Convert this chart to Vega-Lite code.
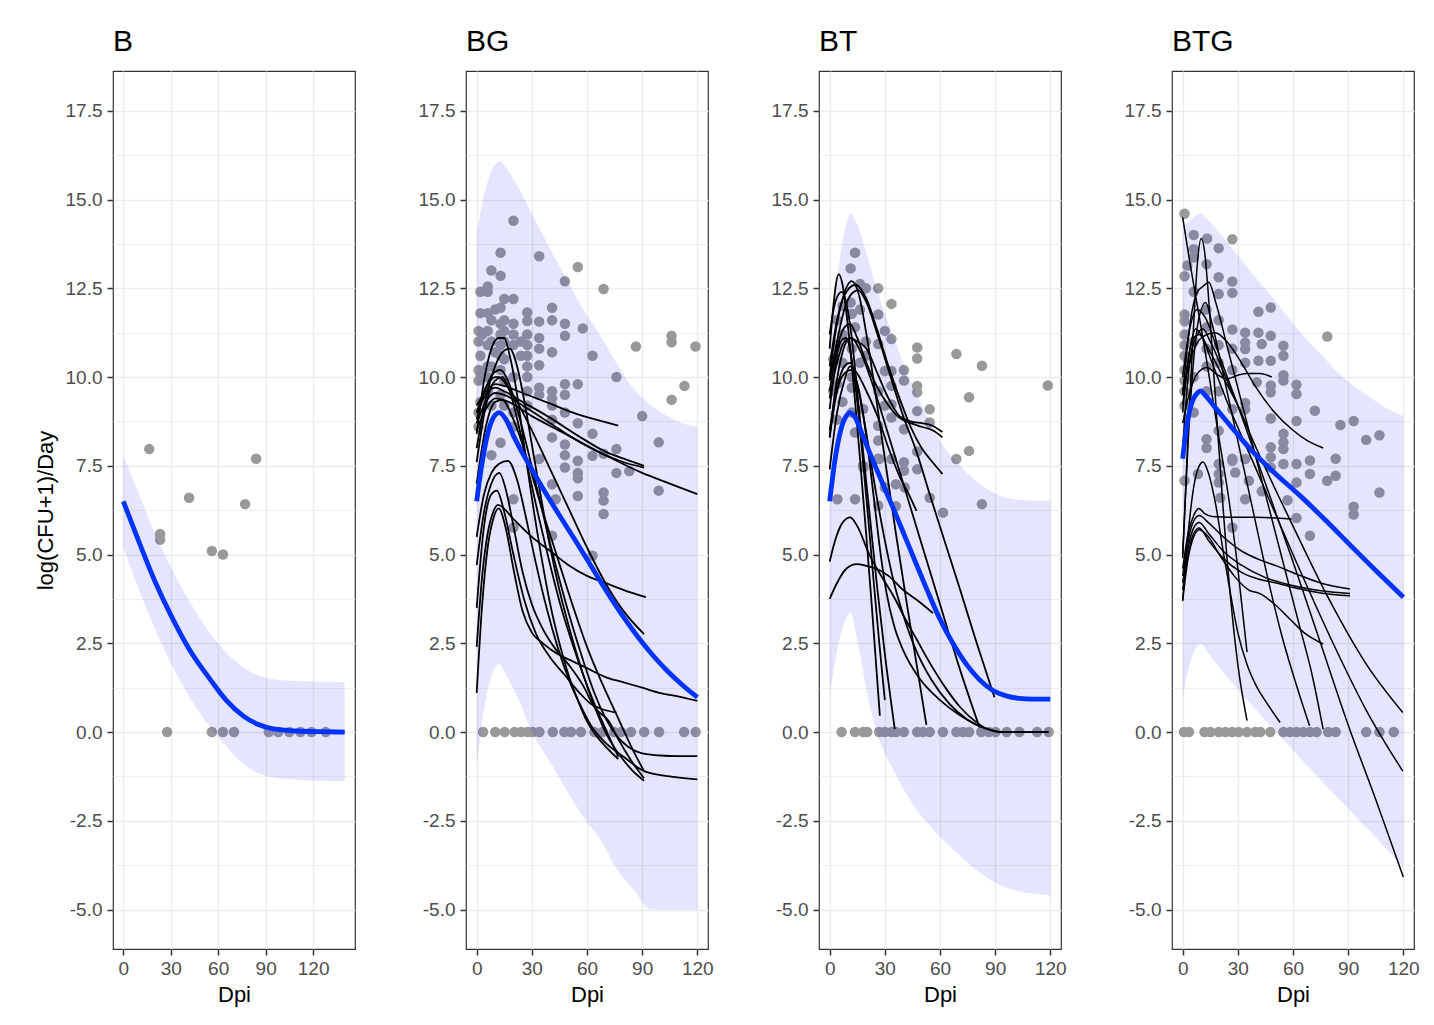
{
"$schema": "https://vega.github.io/schema/vega-lite/v6.json",
"padding": {"left": 33, "top": 26, "right": 5, "bottom": 5},
"background": "white",
"datasets": {
"pts": [
{"p":"B","x":16.4,"y":7.97},{"p":"B","x":23.3,"y":5.58},{"p":"B","x":23.3,"y":5.42},{"p":"B","x":27.7,"y":0},{"p":"B","x":41.6,"y":6.6},{"p":"B","x":56,"y":5.1},{"p":"B","x":56,"y":0},{"p":"B","x":63,"y":5.0},{"p":"B","x":63,"y":0},{"p":"B","x":70,"y":0},{"p":"B","x":77,"y":6.42},{"p":"B","x":84,"y":7.7},{"p":"B","x":92,"y":0},{"p":"B","x":98,"y":0},{"p":"B","x":105,"y":0},{"p":"B","x":112,"y":0},{"p":"B","x":119,"y":0},{"p":"B","x":128,"y":0},
{"p":"BG","x":1,"y":11.3},{"p":"BG","x":1,"y":11.0},{"p":"BG","x":1,"y":10.2},{"p":"BG","x":1,"y":9.9},{"p":"BG","x":1,"y":9.0},{"p":"BG","x":1,"y":8.6},
{"p":"BG","x":2,"y":12.4},{"p":"BG","x":2,"y":11.8},{"p":"BG","x":2,"y":10.6},{"p":"BG","x":2,"y":10.1},{"p":"BG","x":2,"y":9.3},
{"p":"BG","x":3,"y":11.2},{"p":"BG","x":3,"y":10.0},
{"p":"BG","x":6,"y":12.55},{"p":"BG","x":6,"y":12.4},{"p":"BG","x":6,"y":11.8},{"p":"BG","x":6,"y":11.3},{"p":"BG","x":6,"y":10.9},{"p":"BG","x":6,"y":10.3},{"p":"BG","x":6,"y":10.0},{"p":"BG","x":6,"y":9.6},
{"p":"BG","x":8,"y":13.0},{"p":"BG","x":8,"y":11.6},{"p":"BG","x":8,"y":11.0},{"p":"BG","x":8,"y":10.3},{"p":"BG","x":8,"y":9.2},{"p":"BG","x":8,"y":7.8},
{"p":"BG","x":10,"y":11.9},{"p":"BG","x":10,"y":10.7},
{"p":"BG","x":13,"y":13.5},{"p":"BG","x":13,"y":12.85},{"p":"BG","x":13,"y":11.95},{"p":"BG","x":13,"y":11.5},{"p":"BG","x":13,"y":11.2},{"p":"BG","x":13,"y":10.9},{"p":"BG","x":13,"y":10.6},{"p":"BG","x":13,"y":10.2},{"p":"BG","x":13,"y":9.5},{"p":"BG","x":13,"y":8.15},
{"p":"BG","x":15,"y":12.2},{"p":"BG","x":15,"y":11.6},{"p":"BG","x":15,"y":11.3},{"p":"BG","x":15,"y":11.0},{"p":"BG","x":15,"y":10.5},{"p":"BG","x":15,"y":9.9},{"p":"BG","x":15,"y":9.2},
{"p":"BG","x":20,"y":14.4},{"p":"BG","x":20,"y":12.2},{"p":"BG","x":20,"y":11.5},{"p":"BG","x":20,"y":11.2},{"p":"BG","x":20,"y":10.9},{"p":"BG","x":20,"y":10.0},{"p":"BG","x":20,"y":9.0},{"p":"BG","x":20,"y":8.6},{"p":"BG","x":20,"y":6.56},{"p":"BG","x":20,"y":5.76},
{"p":"BG","x":24,"y":11.0},{"p":"BG","x":24,"y":10.6},
{"p":"BG","x":27.5,"y":11.82},{"p":"BG","x":27.5,"y":11.58},{"p":"BG","x":27.5,"y":11.2},{"p":"BG","x":27.5,"y":10.9},{"p":"BG","x":27.5,"y":10.6},{"p":"BG","x":27.5,"y":10.3},{"p":"BG","x":27.5,"y":10.0},{"p":"BG","x":27.5,"y":9.6},{"p":"BG","x":27.5,"y":9.2},
{"p":"BG","x":34,"y":13.4},{"p":"BG","x":34,"y":11.56},{"p":"BG","x":34,"y":11.1},{"p":"BG","x":34,"y":10.8},{"p":"BG","x":34,"y":10.33},{"p":"BG","x":34,"y":9.7},{"p":"BG","x":34,"y":9.5},{"p":"BG","x":34,"y":7.69},
{"p":"BG","x":41,"y":11.95},{"p":"BG","x":41,"y":11.6},{"p":"BG","x":41,"y":10.7},{"p":"BG","x":41,"y":9.6},{"p":"BG","x":41,"y":9.4},{"p":"BG","x":41,"y":9.2},{"p":"BG","x":41,"y":8.8},{"p":"BG","x":41,"y":8.3},{"p":"BG","x":41,"y":6.98},{"p":"BG","x":41,"y":5.53},
{"p":"BG","x":43,"y":6.56},
{"p":"BG","x":48,"y":12.7},{"p":"BG","x":48,"y":11.5},{"p":"BG","x":48,"y":11.16},{"p":"BG","x":48,"y":9.8},{"p":"BG","x":48,"y":9.5},{"p":"BG","x":48,"y":9.0},{"p":"BG","x":48,"y":8.1},{"p":"BG","x":48,"y":7.8},{"p":"BG","x":48,"y":7.45},
{"p":"BG","x":55,"y":13.1},{"p":"BG","x":55,"y":9.8},{"p":"BG","x":55,"y":8.7},{"p":"BG","x":55,"y":7.64},{"p":"BG","x":55,"y":7.3},{"p":"BG","x":55,"y":7.15},{"p":"BG","x":55,"y":6.65},
{"p":"BG","x":57.7,"y":11.37},
{"p":"BG","x":63,"y":10.6},{"p":"BG","x":63,"y":8.4},{"p":"BG","x":63,"y":7.78},{"p":"BG","x":63,"y":4.97},
{"p":"BG","x":69,"y":12.48},{"p":"BG","x":69,"y":7.84},{"p":"BG","x":69,"y":6.75},{"p":"BG","x":69,"y":6.52},{"p":"BG","x":69,"y":6.14},
{"p":"BG","x":76,"y":10.0},{"p":"BG","x":76,"y":7.97},{"p":"BG","x":76,"y":7.3},
{"p":"BG","x":83,"y":7.35},{"p":"BG","x":86.6,"y":10.86},{"p":"BG","x":90,"y":8.9},{"p":"BG","x":99,"y":8.16},{"p":"BG","x":99,"y":6.8},
{"p":"BG","x":106,"y":11.16},{"p":"BG","x":106,"y":10.98},{"p":"BG","x":106,"y":9.36},{"p":"BG","x":113,"y":9.75},{"p":"BG","x":119,"y":10.86},
{"p":"BG","x":3.5,"y":0},{"p":"BG","x":10.1,"y":0},{"p":"BG","x":15.2,"y":0},{"p":"BG","x":20.6,"y":0},{"p":"BG","x":24.2,"y":0},{"p":"BG","x":27.8,"y":0},{"p":"BG","x":30.5,"y":0},{"p":"BG","x":34.1,"y":0},{"p":"BG","x":41.4,"y":0},{"p":"BG","x":47.7,"y":0},{"p":"BG","x":51.3,"y":0},{"p":"BG","x":56.7,"y":0},{"p":"BG","x":64.0,"y":0},{"p":"BG","x":68.5,"y":0},{"p":"BG","x":74.8,"y":0},{"p":"BG","x":78.5,"y":0},{"p":"BG","x":83.9,"y":0},{"p":"BG","x":91.1,"y":0},{"p":"BG","x":99.2,"y":0},{"p":"BG","x":112.8,"y":0},{"p":"BG","x":119.1,"y":0},
{"p":"BT","x":2,"y":10.5},{"p":"BT","x":2,"y":9.6},
{"p":"BT","x":4,"y":11.6},{"p":"BT","x":4,"y":10.9},{"p":"BT","x":4,"y":9.8},{"p":"BT","x":4,"y":8.8},{"p":"BT","x":4.2,"y":6.56},
{"p":"BT","x":7,"y":12.0},{"p":"BT","x":7,"y":11.2},{"p":"BT","x":7,"y":10.4},{"p":"BT","x":7,"y":9.3},
{"p":"BT","x":11.4,"y":13.06},{"p":"BT","x":11.4,"y":12.1},
{"p":"BT","x":12,"y":11.78},{"p":"BT","x":12,"y":10.8},{"p":"BT","x":12,"y":10.0},{"p":"BT","x":12,"y":9.7},{"p":"BT","x":12,"y":9.0},
{"p":"BT","x":13.8,"y":13.5},{"p":"BT","x":13.8,"y":11.4},{"p":"BT","x":13.8,"y":8.44},{"p":"BT","x":13.8,"y":6.56},
{"p":"BT","x":16.5,"y":12.62},{"p":"BT","x":16.5,"y":11.9},{"p":"BT","x":16.5,"y":10.4},
{"p":"BT","x":18.2,"y":9.1},{"p":"BT","x":18.2,"y":7.5},{"p":"BT","x":18.3,"y":7.45},
{"p":"BT","x":19.7,"y":12.5},{"p":"BT","x":19.7,"y":11.0},{"p":"BT","x":19.7,"y":10.6},
{"p":"BT","x":26.4,"y":12.5},{"p":"BT","x":26.4,"y":11.76},{"p":"BT","x":26.4,"y":10.93},{"p":"BT","x":26.4,"y":9.6},{"p":"BT","x":26.4,"y":8.63},{"p":"BT","x":26.4,"y":8.21},{"p":"BT","x":26.4,"y":7.7},{"p":"BT","x":26.4,"y":6.38},{"p":"BT","x":26.9,"y":7.69},
{"p":"BT","x":30,"y":11.3},{"p":"BT","x":30,"y":10.17},{"p":"BT","x":30,"y":9.2},{"p":"BT","x":30,"y":6.89},
{"p":"BT","x":33.6,"y":12.06},{"p":"BT","x":33.6,"y":11.07},{"p":"BT","x":33.6,"y":10.17},{"p":"BT","x":33.6,"y":9.75},{"p":"BT","x":33.6,"y":9.23},{"p":"BT","x":33.6,"y":8.86},{"p":"BT","x":33.6,"y":7.69},
{"p":"BT","x":36,"y":6.98},{"p":"BT","x":36,"y":6.36},
{"p":"BT","x":40.4,"y":10.2},{"p":"BT","x":40.4,"y":9.9},{"p":"BT","x":40.4,"y":8.53},{"p":"BT","x":40.4,"y":7.6},{"p":"BT","x":40.4,"y":7.36},{"p":"BT","x":40.9,"y":6.89},
{"p":"BT","x":47.6,"y":10.83},{"p":"BT","x":47.6,"y":10.52},{"p":"BT","x":47.6,"y":9.75},{"p":"BT","x":47.6,"y":9.57},{"p":"BT","x":47.6,"y":9.04},{"p":"BT","x":47.6,"y":7.9},{"p":"BT","x":47.6,"y":7.4},
{"p":"BT","x":54.4,"y":9.09},{"p":"BT","x":54.4,"y":8.72},{"p":"BT","x":54.4,"y":6.6},{"p":"BT","x":61.6,"y":6.18},
{"p":"BT","x":68.9,"y":10.65},{"p":"BT","x":68.9,"y":7.69},{"p":"BT","x":75.8,"y":9.43},{"p":"BT","x":75.8,"y":7.92},{"p":"BT","x":82.8,"y":10.32},{"p":"BT","x":82.8,"y":6.42},{"p":"BT","x":118.6,"y":9.76},
{"p":"BT","x":6.5,"y":0},{"p":"BT","x":13.8,"y":0},{"p":"BT","x":18.3,"y":0},{"p":"BT","x":20.4,"y":0},{"p":"BT","x":26.9,"y":0},{"p":"BT","x":30.0,"y":0},{"p":"BT","x":33.6,"y":0},{"p":"BT","x":36.0,"y":0},{"p":"BT","x":40.3,"y":0},{"p":"BT","x":47.6,"y":0},{"p":"BT","x":50.8,"y":0},{"p":"BT","x":54.4,"y":0},{"p":"BT","x":61.6,"y":0},{"p":"BT","x":68.9,"y":0},{"p":"BT","x":72.5,"y":0},{"p":"BT","x":75.8,"y":0},{"p":"BT","x":82.4,"y":0},{"p":"BT","x":86.6,"y":0},{"p":"BT","x":90.2,"y":0},{"p":"BT","x":96.3,"y":0},{"p":"BT","x":103.2,"y":0},{"p":"BT","x":112.8,"y":0},{"p":"BT","x":119.1,"y":0},
{"p":"BTG","x":1,"y":14.6},{"p":"BTG","x":1,"y":12.84},{"p":"BTG","x":1,"y":11.76},{"p":"BTG","x":1,"y":11.57},{"p":"BTG","x":1,"y":11.2},{"p":"BTG","x":1,"y":10.9},{"p":"BTG","x":1,"y":10.6},{"p":"BTG","x":1,"y":10.2},{"p":"BTG","x":1,"y":9.9},{"p":"BTG","x":1,"y":9.6},{"p":"BTG","x":1,"y":9.2},{"p":"BTG","x":1,"y":7.08},
{"p":"BTG","x":2.5,"y":13.14},{"p":"BTG","x":2.5,"y":10.5},
{"p":"BTG","x":6,"y":14.0},{"p":"BTG","x":6,"y":13.6},{"p":"BTG","x":6,"y":13.37},{"p":"BTG","x":6,"y":12.4},{"p":"BTG","x":6,"y":11.0},{"p":"BTG","x":6,"y":10.0},{"p":"BTG","x":6,"y":9.0},
{"p":"BTG","x":8.3,"y":7.27},
{"p":"BTG","x":13,"y":13.18},{"p":"BTG","x":13,"y":11.9},{"p":"BTG","x":13,"y":11.4},{"p":"BTG","x":13,"y":10.8},{"p":"BTG","x":13,"y":10.3},{"p":"BTG","x":13,"y":9.6},{"p":"BTG","x":13,"y":8.25},{"p":"BTG","x":13,"y":8.0},{"p":"BTG","x":13.3,"y":13.9},
{"p":"BTG","x":19.6,"y":13.63},{"p":"BTG","x":19.6,"y":12.81},{"p":"BTG","x":19.6,"y":12.34},{"p":"BTG","x":19.6,"y":11.6},{"p":"BTG","x":19.6,"y":10.9},{"p":"BTG","x":19.6,"y":10.4},{"p":"BTG","x":19.6,"y":9.6},{"p":"BTG","x":19.6,"y":8.49},{"p":"BTG","x":19.6,"y":7.55},{"p":"BTG","x":19.6,"y":7.27},{"p":"BTG","x":19.6,"y":7.03},{"p":"BTG","x":20.5,"y":6.6},
{"p":"BTG","x":27,"y":13.88},{"p":"BTG","x":27,"y":12.69},{"p":"BTG","x":27,"y":12.37},{"p":"BTG","x":27,"y":11.34},{"p":"BTG","x":27,"y":10.8},{"p":"BTG","x":27,"y":10.2},{"p":"BTG","x":27,"y":9.09},{"p":"BTG","x":27,"y":7.7},{"p":"BTG","x":27,"y":7.64},{"p":"BTG","x":27,"y":5.76},{"p":"BTG","x":28.6,"y":7.31},
{"p":"BTG","x":34,"y":11.25},{"p":"BTG","x":34,"y":10.97},{"p":"BTG","x":34,"y":10.79},{"p":"BTG","x":34,"y":10.4},{"p":"BTG","x":34,"y":9.27},{"p":"BTG","x":34,"y":9.09},{"p":"BTG","x":34,"y":7.69},{"p":"BTG","x":34,"y":6.56},{"p":"BTG","x":36,"y":7.08},
{"p":"BTG","x":40.3,"y":9.85},{"p":"BTG","x":41.2,"y":11.84},{"p":"BTG","x":41.2,"y":11.25},{"p":"BTG","x":41.2,"y":10.46},{"p":"BTG","x":43,"y":10.93},{"p":"BTG","x":43,"y":6.78},
{"p":"BTG","x":47.9,"y":11.96},{"p":"BTG","x":47.9,"y":11.16},{"p":"BTG","x":47.9,"y":10.46},{"p":"BTG","x":47.9,"y":9.76},{"p":"BTG","x":47.9,"y":9.57},{"p":"BTG","x":47.9,"y":8.83},{"p":"BTG","x":47.9,"y":8.02},{"p":"BTG","x":47.9,"y":7.74},{"p":"BTG","x":47.9,"y":7.45},
{"p":"BTG","x":54.8,"y":10.88},{"p":"BTG","x":54.8,"y":10.6},{"p":"BTG","x":54.8,"y":10.05},{"p":"BTG","x":54.8,"y":9.9},{"p":"BTG","x":54.8,"y":8.4},{"p":"BTG","x":54.8,"y":8.16},{"p":"BTG","x":54.8,"y":7.97},{"p":"BTG","x":54.8,"y":7.55},{"p":"BTG","x":57,"y":6.53},
{"p":"BTG","x":61.9,"y":9.78},{"p":"BTG","x":61.9,"y":9.52},{"p":"BTG","x":61.9,"y":8.76},{"p":"BTG","x":61.9,"y":7.55},{"p":"BTG","x":61.9,"y":7.03},{"p":"BTG","x":61.9,"y":6.03},
{"p":"BTG","x":69.2,"y":7.65},{"p":"BTG","x":69.2,"y":7.27},{"p":"BTG","x":69.2,"y":5.53},{"p":"BTG","x":71.9,"y":9.05},
{"p":"BTG","x":78.6,"y":11.14},{"p":"BTG","x":78.6,"y":7.08},{"p":"BTG","x":83.2,"y":7.7},{"p":"BTG","x":83.2,"y":7.22},{"p":"BTG","x":85.8,"y":8.65},
{"p":"BTG","x":93,"y":8.76},{"p":"BTG","x":93,"y":6.35},{"p":"BTG","x":93,"y":6.13},{"p":"BTG","x":99.8,"y":8.23},{"p":"BTG","x":107,"y":8.36},{"p":"BTG","x":107,"y":6.75},
{"p":"BTG","x":0.7,"y":0},{"p":"BTG","x":3.4,"y":0},{"p":"BTG","x":11.9,"y":0},{"p":"BTG","x":15.1,"y":0},{"p":"BTG","x":19.6,"y":0},{"p":"BTG","x":23.2,"y":0},{"p":"BTG","x":26.9,"y":0},{"p":"BTG","x":30.5,"y":0},{"p":"BTG","x":35.0,"y":0},{"p":"BTG","x":39.5,"y":0},{"p":"BTG","x":42.2,"y":0},{"p":"BTG","x":47.6,"y":0},{"p":"BTG","x":54.8,"y":0},{"p":"BTG","x":58.4,"y":0},{"p":"BTG","x":61.9,"y":0},{"p":"BTG","x":65.6,"y":0},{"p":"BTG","x":69.2,"y":0},{"p":"BTG","x":72.8,"y":0},{"p":"BTG","x":79.1,"y":0},{"p":"BTG","x":83.2,"y":0},{"p":"BTG","x":99.8,"y":0},{"p":"BTG","x":107,"y":0},{"p":"BTG","x":114.8,"y":0}
],
"rib": [
{"p":"B","x":0,"lo":5.2,"hi":7.8},{"p":"B","x":10,"lo":4.0,"hi":6.7},{"p":"B","x":20,"lo":2.9,"hi":5.6},{"p":"B","x":30,"lo":1.95,"hi":4.65},{"p":"B","x":41.6,"lo":1.0,"hi":3.7},{"p":"B","x":55.5,"lo":0.1,"hi":2.75},{"p":"B","x":65,"lo":-0.4,"hi":2.25},{"p":"B","x":76,"lo":-0.9,"hi":1.82},{"p":"B","x":85,"lo":-1.15,"hi":1.6},{"p":"B","x":95,"lo":-1.28,"hi":1.49},{"p":"B","x":110,"lo":-1.34,"hi":1.44},{"p":"B","x":125,"lo":-1.37,"hi":1.42},{"p":"B","x":140,"lo":-1.38,"hi":1.41},
{"p":"BG","x":0,"lo":-1.0,"hi":14.0},{"p":"BG","x":3,"lo":0.3,"hi":14.9},{"p":"BG","x":6,"lo":1.2,"hi":15.5},{"p":"BG","x":9,"lo":1.7,"hi":15.9},{"p":"BG","x":12.3,"lo":1.9,"hi":16.08},{"p":"BG","x":16,"lo":1.6,"hi":15.9},{"p":"BG","x":22,"lo":1.0,"hi":15.4},{"p":"BG","x":31,"lo":-0.1,"hi":14.5},{"p":"BG","x":40,"lo":-0.85,"hi":13.6},{"p":"BG","x":49.6,"lo":-1.7,"hi":12.7},{"p":"BG","x":58,"lo":-2.4,"hi":11.9},{"p":"BG","x":67.5,"lo":-3.05,"hi":11.15},{"p":"BG","x":76,"lo":-3.85,"hi":10.4},{"p":"BG","x":85.5,"lo":-4.45,"hi":9.66},{"p":"BG","x":95,"lo":-5.0,"hi":9.2},{"p":"BG","x":103.8,"lo":-5.0,"hi":8.9},{"p":"BG","x":112,"lo":-5.0,"hi":8.7},{"p":"BG","x":120,"lo":-5.0,"hi":8.6},
{"p":"BT","x":0,"lo":1.0,"hi":11.0},{"p":"BT","x":3,"lo":2.0,"hi":12.3},{"p":"BT","x":6,"lo":2.75,"hi":13.5},{"p":"BT","x":9,"lo":3.2,"hi":14.3},{"p":"BT","x":11.4,"lo":3.37,"hi":14.6},{"p":"BT","x":15,"lo":2.6,"hi":14.3},{"p":"BT","x":20,"lo":1.2,"hi":13.5},{"p":"BT","x":25.5,"lo":0.0,"hi":12.5},{"p":"BT","x":30,"lo":-0.6,"hi":11.8},{"p":"BT","x":35,"lo":-1.1,"hi":11.1},{"p":"BT","x":43.5,"lo":-1.9,"hi":9.95},{"p":"BT","x":52,"lo":-2.5,"hi":9.0},{"p":"BT","x":60,"lo":-2.95,"hi":8.2},{"p":"BT","x":70,"lo":-3.45,"hi":7.55},{"p":"BT","x":80,"lo":-3.9,"hi":7.05},{"p":"BT","x":92.4,"lo":-4.3,"hi":6.66},{"p":"BT","x":100,"lo":-4.45,"hi":6.56},{"p":"BT","x":110,"lo":-4.55,"hi":6.52},{"p":"BT","x":120,"lo":-4.6,"hi":6.52},
{"p":"BTG","x":0,"lo":0.9,"hi":14.2},{"p":"BTG","x":1.6,"lo":1.4,"hi":14.3},{"p":"BTG","x":5,"lo":2.1,"hi":14.45},{"p":"BTG","x":9.7,"lo":2.48,"hi":14.6},{"p":"BTG","x":15,"lo":2.15,"hi":14.35},{"p":"BTG","x":25,"lo":1.5,"hi":13.75},{"p":"BTG","x":35,"lo":0.9,"hi":13.1},{"p":"BTG","x":51,"lo":0.0,"hi":12.1},{"p":"BTG","x":65,"lo":-0.8,"hi":11.2},{"p":"BTG","x":76,"lo":-1.4,"hi":10.6},{"p":"BTG","x":87,"lo":-2.0,"hi":10.0},{"p":"BTG","x":100,"lo":-2.7,"hi":9.5},{"p":"BTG","x":110,"lo":-3.25,"hi":9.15},{"p":"BTG","x":120,"lo":-3.8,"hi":8.9}
],
"mu": [
{"p":"B","x":0,"y":6.5},{"p":"B","x":10,"y":5.35},{"p":"B","x":20,"y":4.25},{"p":"B","x":30,"y":3.3},{"p":"B","x":41.6,"y":2.34},{"p":"B","x":55.5,"y":1.45},{"p":"B","x":65,"y":0.9},{"p":"B","x":76,"y":0.45},{"p":"B","x":85,"y":0.22},{"p":"B","x":95,"y":0.09},{"p":"B","x":110,"y":0.03},{"p":"B","x":125,"y":0.01},{"p":"B","x":140,"y":0.0},
{"p":"BG","x":0,"y":6.5},{"p":"BG","x":3,"y":7.6},{"p":"BG","x":6,"y":8.4},{"p":"BG","x":9,"y":8.85},{"p":"BG","x":12.3,"y":9.0},{"p":"BG","x":16,"y":8.8},{"p":"BG","x":20,"y":8.35},{"p":"BG","x":25,"y":7.85},{"p":"BG","x":30,"y":7.4},{"p":"BG","x":35,"y":6.95},{"p":"BG","x":40,"y":6.52},{"p":"BG","x":46,"y":6.02},{"p":"BG","x":53,"y":5.45},{"p":"BG","x":60.4,"y":4.83},{"p":"BG","x":67,"y":4.27},{"p":"BG","x":74.8,"y":3.63},{"p":"BG","x":82,"y":3.08},{"p":"BG","x":89.3,"y":2.57},{"p":"BG","x":96,"y":2.15},{"p":"BG","x":103.7,"y":1.72},{"p":"BG","x":112,"y":1.32},{"p":"BG","x":120,"y":0.98},
{"p":"BT","x":0,"y":6.5},{"p":"BT","x":3,"y":7.7},{"p":"BT","x":6,"y":8.5},{"p":"BT","x":9,"y":8.9},{"p":"BT","x":11.1,"y":9.0},{"p":"BT","x":14,"y":8.85},{"p":"BT","x":18,"y":8.35},{"p":"BT","x":21.9,"y":7.85},{"p":"BT","x":28,"y":7.1},{"p":"BT","x":34.6,"y":6.3},{"p":"BT","x":41,"y":5.5},{"p":"BT","x":47.2,"y":4.72},{"p":"BT","x":53,"y":4.0},{"p":"BT","x":59.8,"y":3.2},{"p":"BT","x":67,"y":2.5},{"p":"BT","x":74.2,"y":1.92},{"p":"BT","x":81,"y":1.5},{"p":"BT","x":88.6,"y":1.18},{"p":"BT","x":96,"y":1.02},{"p":"BT","x":103,"y":0.95},{"p":"BT","x":110,"y":0.93},{"p":"BT","x":120,"y":0.93},
{"p":"BTG","x":0,"y":7.7},{"p":"BTG","x":2,"y":8.55},{"p":"BTG","x":4,"y":9.1},{"p":"BTG","x":6,"y":9.4},{"p":"BTG","x":8,"y":9.55},{"p":"BTG","x":9.7,"y":9.61},{"p":"BTG","x":12,"y":9.5},{"p":"BTG","x":16,"y":9.25},{"p":"BTG","x":24,"y":8.75},{"p":"BTG","x":36.8,"y":7.97},{"p":"BTG","x":50,"y":7.3},{"p":"BTG","x":63.8,"y":6.66},{"p":"BTG","x":78,"y":5.95},{"p":"BTG","x":92,"y":5.22},{"p":"BTG","x":106,"y":4.5},{"p":"BTG","x":120,"y":3.8}
],
"ind": [
{"p":"BG","id":"g1","x":0,"y":8.4},{"p":"BG","id":"g1","x":4,"y":9.9},{"p":"BG","id":"g1","x":8,"y":10.8},{"p":"BG","id":"g1","x":12,"y":11.1},{"p":"BG","id":"g1","x":15,"y":11.1},{"p":"BG","id":"g1","x":18,"y":10.6},{"p":"BG","id":"g1","x":22,"y":9.5},{"p":"BG","id":"g1","x":26,"y":8.0},{"p":"BG","id":"g1","x":30,"y":6.6},{"p":"BG","id":"g1","x":35,"y":5.0},{"p":"BG","id":"g1","x":40,"y":3.6},{"p":"BG","id":"g1","x":45,"y":2.5},{"p":"BG","id":"g1","x":50,"y":1.6},{"p":"BG","id":"g1","x":55,"y":0.9},{"p":"BG","id":"g1","x":60,"y":0.3},{"p":"BG","id":"g1","x":65,"y":-0.1},{"p":"BG","id":"g1","x":70,"y":-0.4},{"p":"BG","id":"g1","x":77,"y":-0.76},
{"p":"BG","id":"g2","x":0,"y":8.0},{"p":"BG","id":"g2","x":5,"y":9.4},{"p":"BG","id":"g2","x":10,"y":10.3},{"p":"BG","id":"g2","x":15,"y":10.75},{"p":"BG","id":"g2","x":18,"y":10.8},{"p":"BG","id":"g2","x":22,"y":10.3},{"p":"BG","id":"g2","x":26,"y":9.3},{"p":"BG","id":"g2","x":30,"y":8.1},{"p":"BG","id":"g2","x":35,"y":6.6},{"p":"BG","id":"g2","x":40,"y":5.2},{"p":"BG","id":"g2","x":45,"y":4.0},{"p":"BG","id":"g2","x":50,"y":3.0},{"p":"BG","id":"g2","x":55,"y":2.1},{"p":"BG","id":"g2","x":60,"y":1.3},{"p":"BG","id":"g2","x":65,"y":0.6},{"p":"BG","id":"g2","x":70,"y":0.0},{"p":"BG","id":"g2","x":75,"y":-0.45},{"p":"BG","id":"g2","x":80,"y":-0.8},{"p":"BG","id":"g2","x":85,"y":-1.1},{"p":"BG","id":"g2","x":91,"y":-1.37},
{"p":"BG","id":"g3","x":0,"y":8.8},{"p":"BG","id":"g3","x":5,"y":9.7},{"p":"BG","id":"g3","x":10,"y":10.15},{"p":"BG","id":"g3","x":13,"y":10.2},{"p":"BG","id":"g3","x":17,"y":9.9},{"p":"BG","id":"g3","x":22,"y":9.1},{"p":"BG","id":"g3","x":28,"y":7.9},{"p":"BG","id":"g3","x":34,"y":6.6},{"p":"BG","id":"g3","x":40,"y":5.3},{"p":"BG","id":"g3","x":46,"y":4.1},{"p":"BG","id":"g3","x":52,"y":3.0},{"p":"BG","id":"g3","x":58,"y":2.0},{"p":"BG","id":"g3","x":64,"y":1.1},{"p":"BG","id":"g3","x":70,"y":0.4},{"p":"BG","id":"g3","x":76,"y":-0.1},{"p":"BG","id":"g3","x":82,"y":-0.4},{"p":"BG","id":"g3","x":90,"y":-0.6},{"p":"BG","id":"g3","x":100,"y":-0.66},{"p":"BG","id":"g3","x":110,"y":-0.68},{"p":"BG","id":"g3","x":120,"y":-0.68},
{"p":"BG","id":"g4","x":0,"y":9.0},{"p":"BG","id":"g4","x":5,"y":9.7},{"p":"BG","id":"g4","x":10,"y":10.0},{"p":"BG","id":"g4","x":12,"y":10.0},{"p":"BG","id":"g4","x":16,"y":9.8},{"p":"BG","id":"g4","x":22,"y":9.3},{"p":"BG","id":"g4","x":30,"y":8.5},{"p":"BG","id":"g4","x":40,"y":7.4},{"p":"BG","id":"g4","x":50,"y":6.3},{"p":"BG","id":"g4","x":60,"y":5.2},{"p":"BG","id":"g4","x":70,"y":4.2},{"p":"BG","id":"g4","x":80,"y":3.4},{"p":"BG","id":"g4","x":91,"y":2.76},
{"p":"BG","id":"g5","x":0,"y":9.2},{"p":"BG","id":"g5","x":5,"y":9.6},{"p":"BG","id":"g5","x":10,"y":9.8},{"p":"BG","id":"g5","x":15,"y":9.75},{"p":"BG","id":"g5","x":25,"y":9.55},{"p":"BG","id":"g5","x":40,"y":9.25},{"p":"BG","id":"g5","x":55,"y":8.95},{"p":"BG","id":"g5","x":65,"y":8.8},{"p":"BG","id":"g5","x":77,"y":8.63},
{"p":"BG","id":"g6","x":0,"y":9.0},{"p":"BG","id":"g6","x":5,"y":9.5},{"p":"BG","id":"g6","x":10,"y":9.7},{"p":"BG","id":"g6","x":15,"y":9.6},{"p":"BG","id":"g6","x":25,"y":9.3},{"p":"BG","id":"g6","x":40,"y":8.85},{"p":"BG","id":"g6","x":55,"y":8.35},{"p":"BG","id":"g6","x":70,"y":7.9},{"p":"BG","id":"g6","x":80,"y":7.7},{"p":"BG","id":"g6","x":91,"y":7.5},
{"p":"BG","id":"g7","x":0,"y":8.7},{"p":"BG","id":"g7","x":5,"y":9.3},{"p":"BG","id":"g7","x":10,"y":9.55},{"p":"BG","id":"g7","x":15,"y":9.5},{"p":"BG","id":"g7","x":25,"y":9.2},{"p":"BG","id":"g7","x":40,"y":8.7},{"p":"BG","id":"g7","x":55,"y":8.2},{"p":"BG","id":"g7","x":70,"y":7.8},{"p":"BG","id":"g7","x":80,"y":7.6},{"p":"BG","id":"g7","x":91,"y":7.45},
{"p":"BG","id":"g8","x":0,"y":8.5},{"p":"BG","id":"g8","x":5,"y":9.1},{"p":"BG","id":"g8","x":10,"y":9.4},{"p":"BG","id":"g8","x":15,"y":9.35},{"p":"BG","id":"g8","x":30,"y":8.9},{"p":"BG","id":"g8","x":50,"y":8.35},{"p":"BG","id":"g8","x":70,"y":7.8},{"p":"BG","id":"g8","x":90,"y":7.3},{"p":"BG","id":"g8","x":105,"y":7.0},{"p":"BG","id":"g8","x":120,"y":6.7},
{"p":"BG","id":"g9","x":0,"y":5.5},{"p":"BG","id":"g9","x":4,"y":6.7},{"p":"BG","id":"g9","x":8,"y":7.3},{"p":"BG","id":"g9","x":12,"y":7.55},{"p":"BG","id":"g9","x":17,"y":7.64},{"p":"BG","id":"g9","x":22,"y":7.1},{"p":"BG","id":"g9","x":27,"y":6.0},{"p":"BG","id":"g9","x":32,"y":4.8},{"p":"BG","id":"g9","x":38,"y":3.5},{"p":"BG","id":"g9","x":44,"y":2.4},{"p":"BG","id":"g9","x":50,"y":1.5},{"p":"BG","id":"g9","x":56,"y":0.8},{"p":"BG","id":"g9","x":62,"y":0.2},{"p":"BG","id":"g9","x":70,"y":-0.3},{"p":"BG","id":"g9","x":80,"y":-0.7},{"p":"BG","id":"g9","x":91,"y":-1.1},{"p":"BG","id":"g9","x":105,"y":-1.25},{"p":"BG","id":"g9","x":120,"y":-1.33},
{"p":"BG","id":"g10","x":0,"y":4.7},{"p":"BG","id":"g10","x":4,"y":6.2},{"p":"BG","id":"g10","x":8,"y":7.0},{"p":"BG","id":"g10","x":12.3,"y":7.3},{"p":"BG","id":"g10","x":16,"y":6.8},{"p":"BG","id":"g10","x":20,"y":5.8},{"p":"BG","id":"g10","x":25,"y":4.5},{"p":"BG","id":"g10","x":30,"y":3.6},{"p":"BG","id":"g10","x":36,"y":2.9},{"p":"BG","id":"g10","x":42,"y":2.4},{"p":"BG","id":"g10","x":50,"y":1.9},{"p":"BG","id":"g10","x":58,"y":1.3},{"p":"BG","id":"g10","x":64,"y":0.7},{"p":"BG","id":"g10","x":72,"y":0.3},{"p":"BG","id":"g10","x":77,"y":-0.2},{"p":"BG","id":"g10","x":84,"y":-0.8},{"p":"BG","id":"g10","x":91,"y":-1.3},
{"p":"BG","id":"g11","x":0,"y":2.4},{"p":"BG","id":"g11","x":3,"y":4.4},{"p":"BG","id":"g11","x":6,"y":5.6},{"p":"BG","id":"g11","x":9,"y":6.2},{"p":"BG","id":"g11","x":11.6,"y":6.4},{"p":"BG","id":"g11","x":20,"y":6.0},{"p":"BG","id":"g11","x":30,"y":5.5},{"p":"BG","id":"g11","x":40,"y":5.1},{"p":"BG","id":"g11","x":50,"y":4.7},{"p":"BG","id":"g11","x":60,"y":4.4},{"p":"BG","id":"g11","x":70,"y":4.2},{"p":"BG","id":"g11","x":80,"y":4.0},{"p":"BG","id":"g11","x":92,"y":3.8},
{"p":"BG","id":"g12","x":0,"y":1.1},{"p":"BG","id":"g12","x":3,"y":3.6},{"p":"BG","id":"g12","x":6,"y":5.2},{"p":"BG","id":"g12","x":9,"y":6.0},{"p":"BG","id":"g12","x":12,"y":6.3},{"p":"BG","id":"g12","x":16,"y":5.7},{"p":"BG","id":"g12","x":20,"y":4.6},{"p":"BG","id":"g12","x":25,"y":3.4},{"p":"BG","id":"g12","x":30,"y":2.8},{"p":"BG","id":"g12","x":36,"y":2.5},{"p":"BG","id":"g12","x":44,"y":2.2},{"p":"BG","id":"g12","x":52,"y":2.0},{"p":"BG","id":"g12","x":60,"y":1.8},{"p":"BG","id":"g12","x":70,"y":1.55},{"p":"BG","id":"g12","x":80,"y":1.4},{"p":"BG","id":"g12","x":90,"y":1.25},{"p":"BG","id":"g12","x":100,"y":1.1},{"p":"BG","id":"g12","x":110,"y":1.0},{"p":"BG","id":"g12","x":120,"y":0.88},
{"p":"BG","id":"g13","x":0,"y":3.5},{"p":"BG","id":"g13","x":4,"y":5.8},{"p":"BG","id":"g13","x":8,"y":6.7},{"p":"BG","id":"g13","x":11,"y":6.8},{"p":"BG","id":"g13","x":15,"y":6.2},{"p":"BG","id":"g13","x":20,"y":5.0},{"p":"BG","id":"g13","x":26,"y":3.7},{"p":"BG","id":"g13","x":32,"y":2.8},{"p":"BG","id":"g13","x":40,"y":2.1},{"p":"BG","id":"g13","x":48,"y":1.6},{"p":"BG","id":"g13","x":56,"y":1.1},{"p":"BG","id":"g13","x":62,"y":0.8},{"p":"BG","id":"g13","x":68,"y":0.65},{"p":"BG","id":"g13","x":76,"y":0.55},
{"p":"BG","id":"g14","x":0,"y":7.6},{"p":"BG","id":"g14","x":5,"y":9.2},{"p":"BG","id":"g14","x":10,"y":9.9},{"p":"BG","id":"g14","x":14,"y":10.0},{"p":"BG","id":"g14","x":18,"y":9.6},{"p":"BG","id":"g14","x":23,"y":8.6},{"p":"BG","id":"g14","x":28,"y":7.4},{"p":"BG","id":"g14","x":34,"y":6.0},{"p":"BG","id":"g14","x":40,"y":4.7},{"p":"BG","id":"g14","x":46,"y":3.5},{"p":"BG","id":"g14","x":52,"y":2.5},{"p":"BG","id":"g14","x":58,"y":1.6},{"p":"BG","id":"g14","x":64,"y":0.8},{"p":"BG","id":"g14","x":70,"y":0.1},{"p":"BG","id":"g14","x":77,"y":-0.7},
{"p":"BG","id":"g15","x":0,"y":7.0},{"p":"BG","id":"g15","x":5,"y":8.6},{"p":"BG","id":"g15","x":10,"y":9.3},{"p":"BG","id":"g15","x":14,"y":9.35},{"p":"BG","id":"g15","x":20,"y":8.8},{"p":"BG","id":"g15","x":28,"y":7.6},{"p":"BG","id":"g15","x":36,"y":6.2},{"p":"BG","id":"g15","x":44,"y":4.9},{"p":"BG","id":"g15","x":52,"y":3.6},{"p":"BG","id":"g15","x":60,"y":2.4},{"p":"BG","id":"g15","x":68,"y":1.4},{"p":"BG","id":"g15","x":76,"y":0.5},{"p":"BG","id":"g15","x":84,"y":-0.4},{"p":"BG","id":"g15","x":91,"y":-1.1},
{"p":"BT","id":"t1","x":0,"y":10.8},{"p":"BT","id":"t1","x":2,"y":12.0},{"p":"BT","id":"t1","x":4.9,"y":12.9},{"p":"BT","id":"t1","x":7,"y":12.6},{"p":"BT","id":"t1","x":10,"y":11.4},{"p":"BT","id":"t1","x":13,"y":9.8},{"p":"BT","id":"t1","x":16,"y":8.0},{"p":"BT","id":"t1","x":19.5,"y":5.8},{"p":"BT","id":"t1","x":23,"y":3.5},{"p":"BT","id":"t1","x":27.3,"y":0.46},
{"p":"BT","id":"t2","x":0,"y":11.2},{"p":"BT","id":"t2","x":3,"y":12.1},{"p":"BT","id":"t2","x":6.5,"y":12.4},{"p":"BT","id":"t2","x":9,"y":12.1},{"p":"BT","id":"t2","x":12,"y":11.1},{"p":"BT","id":"t2","x":15,"y":9.6},{"p":"BT","id":"t2","x":18,"y":8.0},{"p":"BT","id":"t2","x":22,"y":6.0},{"p":"BT","id":"t2","x":26,"y":4.0},{"p":"BT","id":"t2","x":30,"y":2.2},{"p":"BT","id":"t2","x":35.4,"y":0.08},
{"p":"BT","id":"t3","x":0,"y":10.0},{"p":"BT","id":"t3","x":3,"y":11.2},{"p":"BT","id":"t3","x":7,"y":12.2},{"p":"BT","id":"t3","x":12,"y":12.7},{"p":"BT","id":"t3","x":16,"y":12.3},{"p":"BT","id":"t3","x":20,"y":11.2},{"p":"BT","id":"t3","x":25,"y":9.5},{"p":"BT","id":"t3","x":30,"y":7.7},{"p":"BT","id":"t3","x":36,"y":5.6},{"p":"BT","id":"t3","x":42,"y":3.6},{"p":"BT","id":"t3","x":47,"y":2.0},{"p":"BT","id":"t3","x":52.6,"y":0.2},
{"p":"BT","id":"t4","x":0,"y":10.3},{"p":"BT","id":"t4","x":4,"y":11.6},{"p":"BT","id":"t4","x":8,"y":12.3},{"p":"BT","id":"t4","x":14,"y":12.6},{"p":"BT","id":"t4","x":20,"y":12.2},{"p":"BT","id":"t4","x":26,"y":11.3},{"p":"BT","id":"t4","x":32,"y":10.3},{"p":"BT","id":"t4","x":38,"y":9.4},{"p":"BT","id":"t4","x":44,"y":8.6},{"p":"BT","id":"t4","x":50,"y":8.0},{"p":"BT","id":"t4","x":56,"y":7.6},{"p":"BT","id":"t4","x":61.3,"y":7.27},
{"p":"BT","id":"t5","x":0,"y":8.3},{"p":"BT","id":"t5","x":3,"y":9.6},{"p":"BT","id":"t5","x":7,"y":10.7},{"p":"BT","id":"t5","x":11,"y":11.1},{"p":"BT","id":"t5","x":15,"y":11.0},{"p":"BT","id":"t5","x":20,"y":10.8},{"p":"BT","id":"t5","x":26,"y":10.1},{"p":"BT","id":"t5","x":32,"y":9.4},{"p":"BT","id":"t5","x":38,"y":8.9},{"p":"BT","id":"t5","x":44,"y":8.75},{"p":"BT","id":"t5","x":50,"y":8.7},{"p":"BT","id":"t5","x":55,"y":8.65},{"p":"BT","id":"t5","x":61.3,"y":8.45},
{"p":"BT","id":"t6","x":0,"y":9.6},{"p":"BT","id":"t6","x":4,"y":10.8},{"p":"BT","id":"t6","x":8,"y":11.4},{"p":"BT","id":"t6","x":11,"y":11.5},{"p":"BT","id":"t6","x":15,"y":11.1},{"p":"BT","id":"t6","x":20,"y":10.4},{"p":"BT","id":"t6","x":26,"y":9.7},{"p":"BT","id":"t6","x":32,"y":9.2},{"p":"BT","id":"t6","x":38,"y":8.85},{"p":"BT","id":"t6","x":44,"y":8.7},{"p":"BT","id":"t6","x":50,"y":8.6},{"p":"BT","id":"t6","x":56,"y":8.5},{"p":"BT","id":"t6","x":61.3,"y":8.3},
{"p":"BT","id":"t7","x":0,"y":7.4},{"p":"BT","id":"t7","x":4,"y":9.0},{"p":"BT","id":"t7","x":8,"y":9.9},{"p":"BT","id":"t7","x":11,"y":10.3},{"p":"BT","id":"t7","x":15,"y":10.1},{"p":"BT","id":"t7","x":20,"y":9.6},{"p":"BT","id":"t7","x":26,"y":8.9},{"p":"BT","id":"t7","x":32,"y":8.0},{"p":"BT","id":"t7","x":38,"y":7.2},{"p":"BT","id":"t7","x":43,"y":6.7},{"p":"BT","id":"t7","x":47.2,"y":6.23},
{"p":"BT","id":"t8","x":0,"y":4.8},{"p":"BT","id":"t8","x":3,"y":5.4},{"p":"BT","id":"t8","x":7,"y":5.9},{"p":"BT","id":"t8","x":11.2,"y":6.05},{"p":"BT","id":"t8","x":15,"y":5.8},{"p":"BT","id":"t8","x":21.9,"y":4.96},{"p":"BT","id":"t8","x":28,"y":4.4},{"p":"BT","id":"t8","x":34.6,"y":3.84},{"p":"BT","id":"t8","x":41,"y":3.2},{"p":"BT","id":"t8","x":47.2,"y":2.62},{"p":"BT","id":"t8","x":55,"y":1.9},{"p":"BT","id":"t8","x":63.5,"y":1.21},{"p":"BT","id":"t8","x":71,"y":0.7},{"p":"BT","id":"t8","x":79.7,"y":0.28},{"p":"BT","id":"t8","x":86,"y":0.08},{"p":"BT","id":"t8","x":92.4,"y":0.0},{"p":"BT","id":"t8","x":100,"y":0.0},{"p":"BT","id":"t8","x":110,"y":0.0},{"p":"BT","id":"t8","x":119,"y":0.0},
{"p":"BT","id":"t9","x":0,"y":3.75},{"p":"BT","id":"t9","x":4,"y":4.2},{"p":"BT","id":"t9","x":9,"y":4.6},{"p":"BT","id":"t9","x":14.7,"y":4.73},{"p":"BT","id":"t9","x":20,"y":4.68},{"p":"BT","id":"t9","x":25.5,"y":4.6},{"p":"BT","id":"t9","x":32,"y":4.4},{"p":"BT","id":"t9","x":40,"y":4.0},{"p":"BT","id":"t9","x":48,"y":3.7},{"p":"BT","id":"t9","x":56.2,"y":3.35},
{"p":"BT","id":"t12","x":0,"y":9.4},{"p":"BT","id":"t12","x":4,"y":10.4},{"p":"BT","id":"t12","x":8,"y":11.0},{"p":"BT","id":"t12","x":12,"y":11.1},{"p":"BT","id":"t12","x":16,"y":10.8},{"p":"BT","id":"t12","x":22,"y":10.0},{"p":"BT","id":"t12","x":30,"y":8.7},{"p":"BT","id":"t12","x":40,"y":7.0},{"p":"BT","id":"t12","x":50,"y":5.3},{"p":"BT","id":"t12","x":60,"y":3.6},{"p":"BT","id":"t12","x":70,"y":1.9},{"p":"BT","id":"t12","x":81.5,"y":0.13},
{"p":"BT","id":"t13","x":0,"y":9.9},{"p":"BT","id":"t13","x":4,"y":11.0},{"p":"BT","id":"t13","x":8,"y":11.9},{"p":"BT","id":"t13","x":12,"y":12.35},{"p":"BT","id":"t13","x":15.6,"y":12.45},{"p":"BT","id":"t13","x":20,"y":12.1},{"p":"BT","id":"t13","x":26,"y":11.2},{"p":"BT","id":"t13","x":32,"y":10.2},{"p":"BT","id":"t13","x":40,"y":8.9},{"p":"BT","id":"t13","x":47.2,"y":7.9},{"p":"BT","id":"t13","x":55,"y":6.6},{"p":"BT","id":"t13","x":63,"y":5.3},{"p":"BT","id":"t13","x":71,"y":4.0},{"p":"BT","id":"t13","x":80,"y":2.5},{"p":"BT","id":"t13","x":89.6,"y":0.98},
{"p":"BT","id":"t14","x":0,"y":8.5},{"p":"BT","id":"t14","x":4,"y":9.7},{"p":"BT","id":"t14","x":8,"y":10.3},{"p":"BT","id":"t14","x":11,"y":10.4},{"p":"BT","id":"t14","x":15,"y":9.8},{"p":"BT","id":"t14","x":20,"y":8.4},{"p":"BT","id":"t14","x":25,"y":6.8},{"p":"BT","id":"t14","x":30,"y":5.4},{"p":"BT","id":"t14","x":35,"y":4.2},{"p":"BT","id":"t14","x":40,"y":3.3},{"p":"BT","id":"t14","x":47,"y":2.3},{"p":"BT","id":"t14","x":55,"y":1.5},{"p":"BT","id":"t14","x":65,"y":0.8},{"p":"BT","id":"t14","x":75,"y":0.35},{"p":"BT","id":"t14","x":85,"y":0.1},{"p":"BT","id":"t14","x":95,"y":0.0},{"p":"BT","id":"t14","x":105,"y":0.0},{"p":"BT","id":"t14","x":119,"y":0.0},
{"p":"BT","id":"t16","x":0,"y":9.1},{"p":"BT","id":"t16","x":3,"y":10.3},{"p":"BT","id":"t16","x":6,"y":11.0},{"p":"BT","id":"t16","x":9,"y":11.1},{"p":"BT","id":"t16","x":12,"y":10.5},{"p":"BT","id":"t16","x":15,"y":9.3},{"p":"BT","id":"t16","x":18,"y":7.7},{"p":"BT","id":"t16","x":21,"y":6.0},{"p":"BT","id":"t16","x":24,"y":4.2},{"p":"BT","id":"t16","x":27,"y":2.5},{"p":"BT","id":"t16","x":30,"y":0.9},
{"p":"BT","id":"t17","x":0,"y":8.3},{"p":"BT","id":"t17","x":4,"y":9.6},{"p":"BT","id":"t17","x":8,"y":10.1},{"p":"BT","id":"t17","x":12,"y":10.2},{"p":"BT","id":"t17","x":16,"y":9.6},{"p":"BT","id":"t17","x":20,"y":8.3},{"p":"BT","id":"t17","x":24,"y":6.6},{"p":"BT","id":"t17","x":28,"y":4.9},{"p":"BT","id":"t17","x":31,"y":3.9},{"p":"BT","id":"t17","x":35,"y":3.0},{"p":"BT","id":"t17","x":40,"y":2.3},{"p":"BT","id":"t17","x":49,"y":1.5},{"p":"BT","id":"t17","x":60,"y":0.9},{"p":"BT","id":"t17","x":70,"y":0.5},{"p":"BT","id":"t17","x":80,"y":0.2},{"p":"BT","id":"t17","x":92.4,"y":0.0},
{"p":"BTG","id":"b1","x":0,"y":14.5},{"p":"BTG","id":"b1","x":4,"y":13.2},{"p":"BTG","id":"b1","x":8,"y":12.0},{"p":"BTG","id":"b1","x":12,"y":10.8},{"p":"BTG","id":"b1","x":16,"y":9.5},{"p":"BTG","id":"b1","x":20,"y":8.2},{"p":"BTG","id":"b1","x":25,"y":6.6},{"p":"BTG","id":"b1","x":30,"y":4.6},{"p":"BTG","id":"b1","x":35,"y":2.25},
{"p":"BTG","id":"b2","x":0,"y":4.9},{"p":"BTG","id":"b2","x":3,"y":8.5},{"p":"BTG","id":"b2","x":6,"y":11.5},{"p":"BTG","id":"b2","x":8,"y":13.2},{"p":"BTG","id":"b2","x":10.1,"y":13.9},{"p":"BTG","id":"b2","x":12,"y":13.5},{"p":"BTG","id":"b2","x":14,"y":12.3},{"p":"BTG","id":"b2","x":16,"y":10.8},{"p":"BTG","id":"b2","x":19,"y":8.5},{"p":"BTG","id":"b2","x":22,"y":6.3},{"p":"BTG","id":"b2","x":26,"y":3.8},{"p":"BTG","id":"b2","x":30,"y":1.9},{"p":"BTG","id":"b2","x":35,"y":0.32},
{"p":"BTG","id":"b3","x":0,"y":9.5},{"p":"BTG","id":"b3","x":4,"y":11.5},{"p":"BTG","id":"b3","x":8,"y":12.4},{"p":"BTG","id":"b3","x":11,"y":12.55},{"p":"BTG","id":"b3","x":14.2,"y":12.67},{"p":"BTG","id":"b3","x":18,"y":12.1},{"p":"BTG","id":"b3","x":24,"y":10.9},{"p":"BTG","id":"b3","x":32,"y":9.3},{"p":"BTG","id":"b3","x":40,"y":7.7},{"p":"BTG","id":"b3","x":48,"y":6.1},{"p":"BTG","id":"b3","x":56,"y":4.5},{"p":"BTG","id":"b3","x":64,"y":2.9},{"p":"BTG","id":"b3","x":70,"y":1.7},{"p":"BTG","id":"b3","x":76.4,"y":0.08},
{"p":"BTG","id":"b4","x":0,"y":5.0},{"p":"BTG","id":"b4","x":3,"y":8.2},{"p":"BTG","id":"b4","x":6,"y":10.5},{"p":"BTG","id":"b4","x":9,"y":11.7},{"p":"BTG","id":"b4","x":12.5,"y":12.1},{"p":"BTG","id":"b4","x":16,"y":11.5},{"p":"BTG","id":"b4","x":22,"y":10.1},{"p":"BTG","id":"b4","x":30,"y":8.2},{"p":"BTG","id":"b4","x":38,"y":6.3},{"p":"BTG","id":"b4","x":46,"y":4.4},{"p":"BTG","id":"b4","x":54,"y":2.7},{"p":"BTG","id":"b4","x":62,"y":1.3},{"p":"BTG","id":"b4","x":69,"y":0.18},
{"p":"BTG","id":"b6","x":0,"y":8.0},{"p":"BTG","id":"b6","x":4,"y":10.5},{"p":"BTG","id":"b6","x":8,"y":11.2},{"p":"BTG","id":"b6","x":11,"y":11.35},{"p":"BTG","id":"b6","x":15,"y":11.0},{"p":"BTG","id":"b6","x":25,"y":9.8},{"p":"BTG","id":"b6","x":40,"y":8.0},{"p":"BTG","id":"b6","x":60,"y":5.8},{"p":"BTG","id":"b6","x":80,"y":3.7},{"p":"BTG","id":"b6","x":100,"y":1.9},{"p":"BTG","id":"b6","x":119.7,"y":0.55},
{"p":"BTG","id":"b7","x":0,"y":9.2},{"p":"BTG","id":"b7","x":4,"y":10.8},{"p":"BTG","id":"b7","x":7,"y":11.35},{"p":"BTG","id":"b7","x":10,"y":11.2},{"p":"BTG","id":"b7","x":16,"y":10.4},{"p":"BTG","id":"b7","x":25,"y":9.2},{"p":"BTG","id":"b7","x":40,"y":7.4},{"p":"BTG","id":"b7","x":60,"y":5.0},{"p":"BTG","id":"b7","x":80,"y":2.7},{"p":"BTG","id":"b7","x":100,"y":0.6},{"p":"BTG","id":"b7","x":119.7,"y":-1.1},
{"p":"BTG","id":"b8","x":0,"y":10.0},{"p":"BTG","id":"b8","x":4,"y":11.4},{"p":"BTG","id":"b8","x":8,"y":11.9},{"p":"BTG","id":"b8","x":12,"y":11.7},{"p":"BTG","id":"b8","x":20,"y":10.6},{"p":"BTG","id":"b8","x":30,"y":9.2},{"p":"BTG","id":"b8","x":45,"y":7.0},{"p":"BTG","id":"b8","x":60,"y":4.8},{"p":"BTG","id":"b8","x":75,"y":2.5},{"p":"BTG","id":"b8","x":90,"y":0.2},{"p":"BTG","id":"b8","x":105,"y":-1.9},{"p":"BTG","id":"b8","x":120,"y":-4.08},
{"p":"BTG","id":"b9","x":0,"y":9.0},{"p":"BTG","id":"b9","x":3,"y":10.5},{"p":"BTG","id":"b9","x":6,"y":11.1},{"p":"BTG","id":"b9","x":9,"y":11.2},{"p":"BTG","id":"b9","x":13,"y":10.9},{"p":"BTG","id":"b9","x":18,"y":10.4},{"p":"BTG","id":"b9","x":24,"y":9.8},{"p":"BTG","id":"b9","x":30,"y":9.2},{"p":"BTG","id":"b9","x":35,"y":8.6},
{"p":"BTG","id":"b10","x":0,"y":8.7},{"p":"BTG","id":"b10","x":4,"y":9.6},{"p":"BTG","id":"b10","x":8,"y":10.1},{"p":"BTG","id":"b10","x":13.3,"y":10.27},{"p":"BTG","id":"b10","x":18,"y":10.1},{"p":"BTG","id":"b10","x":24,"y":9.95},{"p":"BTG","id":"b10","x":30,"y":10.05},{"p":"BTG","id":"b10","x":35,"y":10.1},{"p":"BTG","id":"b10","x":42,"y":10.1},{"p":"BTG","id":"b10","x":48.5,"y":10.0},
{"p":"BTG","id":"b11","x":0,"y":9.6},{"p":"BTG","id":"b11","x":5,"y":10.6},{"p":"BTG","id":"b11","x":10,"y":11.1},{"p":"BTG","id":"b11","x":17.8,"y":11.25},{"p":"BTG","id":"b11","x":24,"y":11.0},{"p":"BTG","id":"b11","x":32,"y":10.4},{"p":"BTG","id":"b11","x":40,"y":9.7},{"p":"BTG","id":"b11","x":50,"y":9.0},{"p":"BTG","id":"b11","x":60,"y":8.5},{"p":"BTG","id":"b11","x":68,"y":8.2},{"p":"BTG","id":"b11","x":76.4,"y":8.0},
{"p":"BTG","id":"b12","x":0,"y":4.6},{"p":"BTG","id":"b12","x":3,"y":5.6},{"p":"BTG","id":"b12","x":6,"y":6.1},{"p":"BTG","id":"b12","x":8.8,"y":6.3},{"p":"BTG","id":"b12","x":12,"y":6.15},{"p":"BTG","id":"b12","x":16,"y":6.07},{"p":"BTG","id":"b12","x":25,"y":6.05},{"p":"BTG","id":"b12","x":40,"y":6.05},{"p":"BTG","id":"b12","x":59.2,"y":6.0},
{"p":"BTG","id":"b13","x":0,"y":4.4},{"p":"BTG","id":"b13","x":3,"y":5.4},{"p":"BTG","id":"b13","x":6,"y":5.95},{"p":"BTG","id":"b13","x":9,"y":6.1},{"p":"BTG","id":"b13","x":14,"y":5.9},{"p":"BTG","id":"b13","x":22,"y":5.5},{"p":"BTG","id":"b13","x":32,"y":5.1},{"p":"BTG","id":"b13","x":42,"y":4.85},{"p":"BTG","id":"b13","x":51,"y":4.68},{"p":"BTG","id":"b13","x":62,"y":4.45},{"p":"BTG","id":"b13","x":75,"y":4.2},{"p":"BTG","id":"b13","x":91,"y":4.03},
{"p":"BTG","id":"b14","x":0,"y":4.2},{"p":"BTG","id":"b14","x":3,"y":5.2},{"p":"BTG","id":"b14","x":6,"y":5.75},{"p":"BTG","id":"b14","x":9,"y":5.9},{"p":"BTG","id":"b14","x":14,"y":5.6},{"p":"BTG","id":"b14","x":22,"y":5.1},{"p":"BTG","id":"b14","x":32,"y":4.7},{"p":"BTG","id":"b14","x":45,"y":4.35},{"p":"BTG","id":"b14","x":58,"y":4.15},{"p":"BTG","id":"b14","x":69,"y":4.03},{"p":"BTG","id":"b14","x":80,"y":3.95},{"p":"BTG","id":"b14","x":91,"y":3.9},
{"p":"BTG","id":"b15","x":0,"y":4.0},{"p":"BTG","id":"b15","x":3,"y":5.0},{"p":"BTG","id":"b15","x":6,"y":5.6},{"p":"BTG","id":"b15","x":9,"y":5.75},{"p":"BTG","id":"b15","x":14,"y":5.4},{"p":"BTG","id":"b15","x":22,"y":4.9},{"p":"BTG","id":"b15","x":32,"y":4.5},{"p":"BTG","id":"b15","x":42,"y":4.3},{"p":"BTG","id":"b15","x":51,"y":4.2},{"p":"BTG","id":"b15","x":62,"y":4.05},{"p":"BTG","id":"b15","x":75,"y":3.92},{"p":"BTG","id":"b15","x":91,"y":3.84},
{"p":"BTG","id":"b16","x":0,"y":3.7},{"p":"BTG","id":"b16","x":3,"y":4.9},{"p":"BTG","id":"b16","x":6,"y":5.5},{"p":"BTG","id":"b16","x":9,"y":5.7},{"p":"BTG","id":"b16","x":14,"y":5.5},{"p":"BTG","id":"b16","x":20,"y":5.0},{"p":"BTG","id":"b16","x":28,"y":4.4},{"p":"BTG","id":"b16","x":36,"y":4.0},{"p":"BTG","id":"b16","x":42,"y":3.9},{"p":"BTG","id":"b16","x":50,"y":3.6},{"p":"BTG","id":"b16","x":58,"y":3.2},{"p":"BTG","id":"b16","x":66,"y":2.8},{"p":"BTG","id":"b16","x":76.4,"y":2.48},
{"p":"BTG","id":"b17","x":0,"y":3.7},{"p":"BTG","id":"b17","x":3,"y":5.6},{"p":"BTG","id":"b17","x":6,"y":6.9},{"p":"BTG","id":"b17","x":9,"y":7.5},{"p":"BTG","id":"b17","x":11.1,"y":7.61},{"p":"BTG","id":"b17","x":14,"y":7.3},{"p":"BTG","id":"b17","x":18,"y":6.4},{"p":"BTG","id":"b17","x":22,"y":5.1},{"p":"BTG","id":"b17","x":26,"y":3.9},{"p":"BTG","id":"b17","x":30,"y":2.8},{"p":"BTG","id":"b17","x":35,"y":1.9},{"p":"BTG","id":"b17","x":40,"y":1.3},{"p":"BTG","id":"b17","x":46,"y":0.8},{"p":"BTG","id":"b17","x":53,"y":0.27}
]
},
"hconcat": [
{
"width": 242, "height": 878,
"title": {"text": "B"},
"layer": [
{"data": {"name": "pts"}, "transform": [{"filter": {"field": "p", "equal": "B"}}], "mark": {"type": "circle", "size": 110, "color": "#999999", "opacity": 1},
 "encoding": {
  "x": {"field": "x", "type": "quantitative", "title": "Dpi", "scale": {"domain": [-6.5, 146.5], "nice": false, "zero": false},
   "axis": {"values": [0,15,30,45,60,75,90,105,120,135], "labelExpr": "datum.value % 30 === 0 ? datum.label : ''", "tickOpacity": {"condition": {"test": "datum.value % 30 === 0", "value": 1}, "value": 0}, "gridWidth": {"condition": {"test": "datum.value % 30 === 0", "value": 1.4}, "value": 0.8}}},
  "y": {"field": "y", "type": "quantitative", "title": "log(CFU+1)/Day", "scale": {"domain": [-6.11, 18.62], "nice": false, "zero": false},
   "axis": {"values": [-5,-3.75,-2.5,-1.25,0,1.25,2.5,3.75,5,6.25,7.5,8.75,10,11.25,12.5,13.75,15,16.25,17.5], "labelExpr": "datum.value % 2.5 === 0 ? (datum.value < 0 ? '-' + format(-datum.value, '.1f') : format(datum.value, '.1f')) : ''", "tickOpacity": {"condition": {"test": "datum.value % 2.5 === 0", "value": 1}, "value": 0}, "gridWidth": {"condition": {"test": "datum.value % 2.5 === 0", "value": 1.4}, "value": 0.8}}}
 }},
{"data": {"name": "rib"}, "transform": [{"filter": {"field": "p", "equal": "B"}}], "mark": {"type": "area", "color": "#0000FF", "opacity": 0.1, "interpolate": "monotone"},
 "encoding": {"x": {"field": "x", "type": "quantitative", "title": "Dpi"}, "y": {"field": "lo", "type": "quantitative", "title": "log(CFU+1)/Day"}, "y2": {"field": "hi"}}},
{"data": {"name": "mu"}, "transform": [{"filter": {"field": "p", "equal": "B"}}], "mark": {"type": "line", "color": "#0033FF", "strokeWidth": 4.8, "interpolate": "monotone"},
 "encoding": {"x": {"field": "x", "type": "quantitative", "title": "Dpi"}, "y": {"field": "y", "type": "quantitative", "title": "log(CFU+1)/Day"}}}
]
},
{
"width": 242, "height": 878,
"title": {"text": "BG"},
"layer": [
{"data": {"name": "pts"}, "transform": [{"filter": {"field": "p", "equal": "BG"}}], "mark": {"type": "circle", "size": 110, "color": "#999999", "opacity": 1},
 "encoding": {
  "x": {"field": "x", "type": "quantitative", "title": "Dpi", "scale": {"domain": [-5.8, 125.8], "nice": false, "zero": false},
   "axis": {"values": [0,15,30,45,60,75,90,105,120], "labelExpr": "datum.value % 30 === 0 ? datum.label : ''", "tickOpacity": {"condition": {"test": "datum.value % 30 === 0", "value": 1}, "value": 0}, "gridWidth": {"condition": {"test": "datum.value % 30 === 0", "value": 1.4}, "value": 0.8}}},
  "y": {"field": "y", "type": "quantitative", "title": null, "scale": {"domain": [-6.11, 18.62], "nice": false, "zero": false},
   "axis": {"values": [-5,-3.75,-2.5,-1.25,0,1.25,2.5,3.75,5,6.25,7.5,8.75,10,11.25,12.5,13.75,15,16.25,17.5], "labelExpr": "datum.value % 2.5 === 0 ? (datum.value < 0 ? '-' + format(-datum.value, '.1f') : format(datum.value, '.1f')) : ''", "tickOpacity": {"condition": {"test": "datum.value % 2.5 === 0", "value": 1}, "value": 0}, "gridWidth": {"condition": {"test": "datum.value % 2.5 === 0", "value": 1.4}, "value": 0.8}}}
 }},
{"data": {"name": "rib"}, "transform": [{"filter": {"field": "p", "equal": "BG"}}], "mark": {"type": "area", "color": "#0000FF", "opacity": 0.1, "interpolate": "monotone"},
 "encoding": {"x": {"field": "x", "type": "quantitative", "title": "Dpi"}, "y": {"field": "lo", "type": "quantitative", "title": null}, "y2": {"field": "hi"}}},
{"data": {"name": "ind"}, "transform": [{"filter": {"field": "p", "equal": "BG"}}], "mark": {"type": "line", "color": "#000000", "strokeWidth": 1.8, "interpolate": "monotone"},
 "encoding": {"x": {"field": "x", "type": "quantitative", "title": "Dpi"}, "y": {"field": "y", "type": "quantitative", "title": null}, "detail": {"field": "id"}}},
{"data": {"name": "mu"}, "transform": [{"filter": {"field": "p", "equal": "BG"}}], "mark": {"type": "line", "color": "#0033FF", "strokeWidth": 4.8, "interpolate": "monotone"},
 "encoding": {"x": {"field": "x", "type": "quantitative", "title": "Dpi"}, "y": {"field": "y", "type": "quantitative", "title": null}}}
]
},
{
"width": 242, "height": 878,
"title": {"text": "BT"},
"layer": [
{"data": {"name": "pts"}, "transform": [{"filter": {"field": "p", "equal": "BT"}}], "mark": {"type": "circle", "size": 110, "color": "#999999", "opacity": 1},
 "encoding": {
  "x": {"field": "x", "type": "quantitative", "title": "Dpi", "scale": {"domain": [-5.8, 125.8], "nice": false, "zero": false},
   "axis": {"values": [0,15,30,45,60,75,90,105,120], "labelExpr": "datum.value % 30 === 0 ? datum.label : ''", "tickOpacity": {"condition": {"test": "datum.value % 30 === 0", "value": 1}, "value": 0}, "gridWidth": {"condition": {"test": "datum.value % 30 === 0", "value": 1.4}, "value": 0.8}}},
  "y": {"field": "y", "type": "quantitative", "title": null, "scale": {"domain": [-6.11, 18.62], "nice": false, "zero": false},
   "axis": {"values": [-5,-3.75,-2.5,-1.25,0,1.25,2.5,3.75,5,6.25,7.5,8.75,10,11.25,12.5,13.75,15,16.25,17.5], "labelExpr": "datum.value % 2.5 === 0 ? (datum.value < 0 ? '-' + format(-datum.value, '.1f') : format(datum.value, '.1f')) : ''", "tickOpacity": {"condition": {"test": "datum.value % 2.5 === 0", "value": 1}, "value": 0}, "gridWidth": {"condition": {"test": "datum.value % 2.5 === 0", "value": 1.4}, "value": 0.8}}}
 }},
{"data": {"name": "rib"}, "transform": [{"filter": {"field": "p", "equal": "BT"}}], "mark": {"type": "area", "color": "#0000FF", "opacity": 0.1, "interpolate": "monotone"},
 "encoding": {"x": {"field": "x", "type": "quantitative", "title": "Dpi"}, "y": {"field": "lo", "type": "quantitative", "title": null}, "y2": {"field": "hi"}}},
{"data": {"name": "ind"}, "transform": [{"filter": {"field": "p", "equal": "BT"}}], "mark": {"type": "line", "color": "#000000", "strokeWidth": 1.8, "interpolate": "monotone"},
 "encoding": {"x": {"field": "x", "type": "quantitative", "title": "Dpi"}, "y": {"field": "y", "type": "quantitative", "title": null}, "detail": {"field": "id"}}},
{"data": {"name": "mu"}, "transform": [{"filter": {"field": "p", "equal": "BT"}}], "mark": {"type": "line", "color": "#0033FF", "strokeWidth": 4.8, "interpolate": "monotone"},
 "encoding": {"x": {"field": "x", "type": "quantitative", "title": "Dpi"}, "y": {"field": "y", "type": "quantitative", "title": null}}}
]
},
{
"width": 242, "height": 878,
"title": {"text": "BTG"},
"layer": [
{"data": {"name": "pts"}, "transform": [{"filter": {"field": "p", "equal": "BTG"}}], "mark": {"type": "circle", "size": 110, "color": "#999999", "opacity": 1},
 "encoding": {
  "x": {"field": "x", "type": "quantitative", "title": "Dpi", "scale": {"domain": [-5.8, 125.8], "nice": false, "zero": false},
   "axis": {"values": [0,15,30,45,60,75,90,105,120], "labelExpr": "datum.value % 30 === 0 ? datum.label : ''", "tickOpacity": {"condition": {"test": "datum.value % 30 === 0", "value": 1}, "value": 0}, "gridWidth": {"condition": {"test": "datum.value % 30 === 0", "value": 1.4}, "value": 0.8}}},
  "y": {"field": "y", "type": "quantitative", "title": null, "scale": {"domain": [-6.11, 18.62], "nice": false, "zero": false},
   "axis": {"values": [-5,-3.75,-2.5,-1.25,0,1.25,2.5,3.75,5,6.25,7.5,8.75,10,11.25,12.5,13.75,15,16.25,17.5], "labelExpr": "datum.value % 2.5 === 0 ? (datum.value < 0 ? '-' + format(-datum.value, '.1f') : format(datum.value, '.1f')) : ''", "tickOpacity": {"condition": {"test": "datum.value % 2.5 === 0", "value": 1}, "value": 0}, "gridWidth": {"condition": {"test": "datum.value % 2.5 === 0", "value": 1.4}, "value": 0.8}}}
 }},
{"data": {"name": "rib"}, "transform": [{"filter": {"field": "p", "equal": "BTG"}}], "mark": {"type": "area", "color": "#0000FF", "opacity": 0.1, "interpolate": "monotone"},
 "encoding": {"x": {"field": "x", "type": "quantitative", "title": "Dpi"}, "y": {"field": "lo", "type": "quantitative", "title": null}, "y2": {"field": "hi"}}},
{"data": {"name": "ind"}, "transform": [{"filter": {"field": "p", "equal": "BTG"}}], "mark": {"type": "line", "color": "#000000", "strokeWidth": 1.5, "interpolate": "monotone"},
 "encoding": {"x": {"field": "x", "type": "quantitative", "title": "Dpi"}, "y": {"field": "y", "type": "quantitative", "title": null}, "detail": {"field": "id"}}},
{"data": {"name": "mu"}, "transform": [{"filter": {"field": "p", "equal": "BTG"}}], "mark": {"type": "line", "color": "#0033FF", "strokeWidth": 4.8, "interpolate": "monotone"},
 "encoding": {"x": {"field": "x", "type": "quantitative", "title": "Dpi"}, "y": {"field": "y", "type": "quantitative", "title": null}}}
]
}
],
"spacing": 111,
"bounds": "flush",
"config": {
 "font": "Liberation Sans",
 "view": {"stroke": "#333333", "strokeWidth": 1.2},
 "axis": {"domain": false, "grid": true, "gridColor": "#EBEBEB", "tickColor": "#333333", "tickSize": 6, "tickWidth": 1.5, "labelFontSize": 19, "labelColor": "#4D4D4D", "labelFont": "Liberation Sans", "labelPadding": 4, "titleFont": "Liberation Sans", "titleFontSize": 22, "titleFontWeight": "normal", "titleColor": "#000000", "labelFlush": false, "labelOverlap": false},
 "axisX": {"titlePadding": 6},
 "axisY": {"titlePadding": 8, "labelPadding": 5},
 "title": {"font": "Liberation Sans", "fontSize": 30, "fontWeight": "normal", "anchor": "start", "frame": "group", "offset": 14, "color": "#000000"}
}
}
